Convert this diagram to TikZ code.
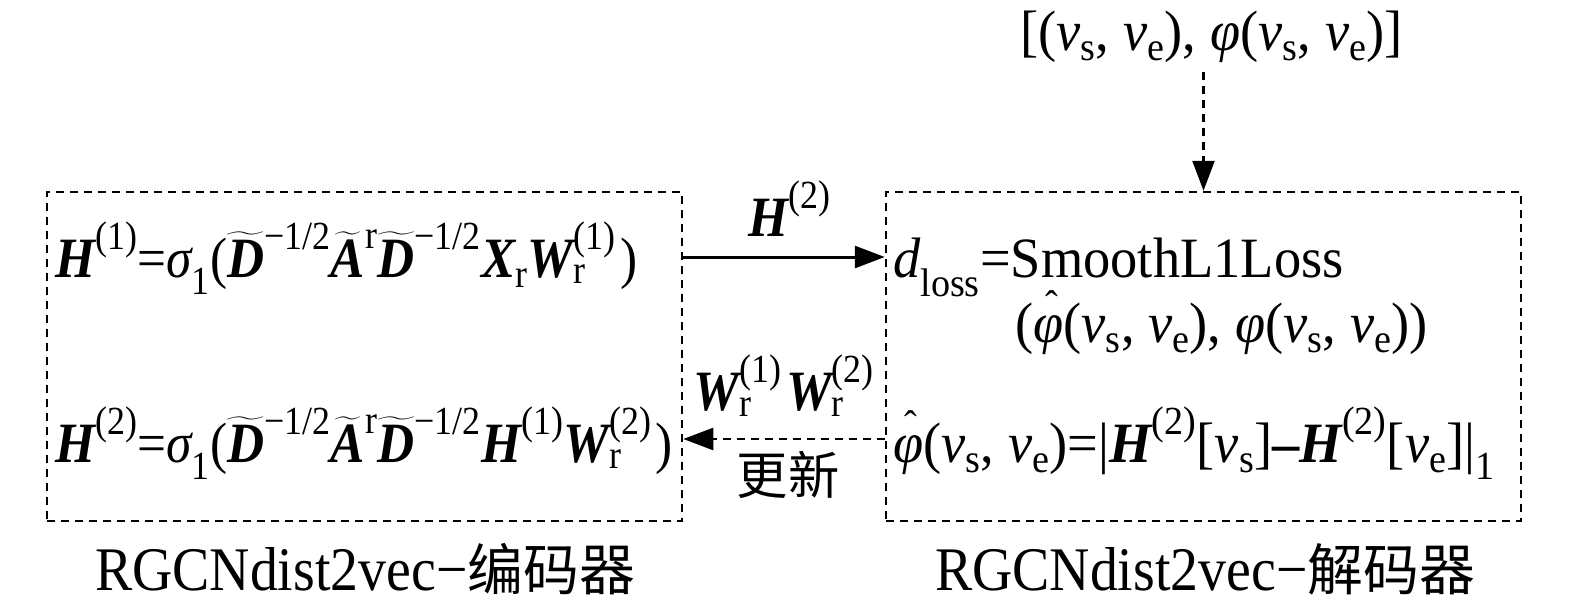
\documentclass[tikz,border=0pt]{standalone}
\usepackage{amsmath}
\usepackage{fontspec}
\setmainfont{Liberation Serif}[FakeStretch=0.9]
\newfontfamily\wide{Liberation Serif}[FakeStretch=0.955]
\newfontfamily\cjk{Noto Sans CJK SC}[Scale=0.9]
\newfontfamily\capfont{Liberation Serif}[FakeStretch=0.9]
\usetikzlibrary{arrows.meta}
\newcommand\B[1]{\text{\bfseries\itshape #1}}
\newcommand\I[1]{\text{\itshape #1}}
\newcommand\R[1]{\text{#1}}
\newcommand\WT[1]{{\smash{\widetilde{\B{#1}}}\vphantom{\B{#1}}}}
\newcommand\PH{\text{\itshape\sbox0{φ}\rlap{\hbox to \wd0{\hss\hspace{6pt}\raisebox{24pt}[0pt][0pt]{\fontsize{40}{40}\selectfont\upshape ˆ}\hss}}\usebox0}}
\tikzset{
  box/.style={draw,line width=2.5pt,dash pattern=on 8pt off 6pt,minimum width=635pt,minimum height=329pt,inner sep=0pt},
  lbl/.style={inner sep=0pt,anchor=base west,font=\fontsize{57}{66}\selectfont},
  wlbl/.style={inner sep=0pt,anchor=base west,font=\fontsize{57}{66}\selectfont\wide},
  clbl/.style={inner sep=0pt,anchor=base,font=\fontsize{57}{66}\selectfont},
  caplbl/.style={inner sep=0pt,anchor=base,font=\fontsize{62}{72}\selectfont\capfont},
  arr/.style={line width=3pt,-{Triangle[length=30pt,width=22pt]}},
  darr/.style={line width=2.5pt,dash pattern=on 8pt off 6pt,-{Triangle[length=30pt,width=22pt]}}
}
\begin{document}
\begin{tikzpicture}[x=1pt,y=-1pt]
\useasboundingbox (0,0) rectangle (1575,608);
\node[box] (enc) at (364.5,356.5) {};
\node[box] (dec) at (1203.5,356.5) {};
% encoder formulas
\node[lbl] (f1) at (55,277) {$\B{H}^{\R{(1)}}\R{=}\I{σ}_{\R{1}}\R{(}\WT{D}^{\R{−1/2}}\WT{A}^{\R{r}}\WT{D}^{\R{−1/2}}\B{X}_{\R{r}}\B{W}_{\R{r}}^{\R{(1)}}\,\R{)}$};
\node[lbl] (f2) at (55,462) {$\B{H}^{\R{(2)}}\R{=}\I{σ}_{\R{1}}\R{(}\WT{D}^{\R{−1/2}}\WT{A}^{\R{r}}\WT{D}^{\R{−1/2}}\B{H}^{\R{(1)}}\B{W}_{\R{r}}^{\R{(2)}}\,\R{)}$};
% decoder formulas
\node[wlbl] (g1) at (893,277) {$\I{d}_{\R{loss}}\R{=SmoothL1Loss}$};
\node[wlbl] (g2) at (1015,342) {$\R{(}\PH\R{(}\I{v}_{\R{s}}\R{, }\I{v}_{\R{e}}\R{), }\I{φ}\R{(}\I{v}_{\R{s}}\R{, }\I{v}_{\R{e}}\R{))}$};
\node[wlbl] (g3) at (893,462) {$\PH\R{(}\I{v}_{\R{s}}\R{, }\I{v}_{\R{e}}\R{)=|}\B{H}^{\R{(2)}}\R{[}\I{v}_{\R{s}}\R{]}\R{\bfseries –}\B{H}^{\R{(2)}}\R{[}\I{v}_{\R{e}}\R{]|}_{\R{1}}$};
% top input
\node[wlbl] (top) at (1020,50) {$\R{[(}\I{v}_{\R{s}}\R{, }\I{v}_{\R{e}}\R{), }\I{φ}\R{(}\I{v}_{\R{s}}\R{, }\I{v}_{\R{e}}\R{)]}$};
\coordinate (topend) at ([yshift=-10pt]top.south -| dec.north);
\draw[darr] (topend) -- (dec.north);
% arrows between boxes
\draw[arr] ([yshift=99.5pt]enc.east) -- ([yshift=99.5pt]dec.west);
\node[clbl] (h2) at (790,236) {$\B{H}^{\R{(2)}}$};
\draw[darr] ([yshift=-82.5pt]dec.west) -- ([yshift=-82.5pt]enc.east);
\node[clbl] (w) at (784,410) {$\B{W}_{\R{r}}^{\R{(1)}}\,\B{W}_{\R{r}}^{\R{(2)}}$};
\node[clbl] (upd) at (788,494) {\cjk 更新};
% captions
\node[caplbl] (cenc) at (365,590) {RGCNdist2vec−{\cjk 编码器}};
\node[caplbl] (cdec) at (1205,590) {RGCNdist2vec−{\cjk 解码器}};
\end{tikzpicture}
\end{document}
